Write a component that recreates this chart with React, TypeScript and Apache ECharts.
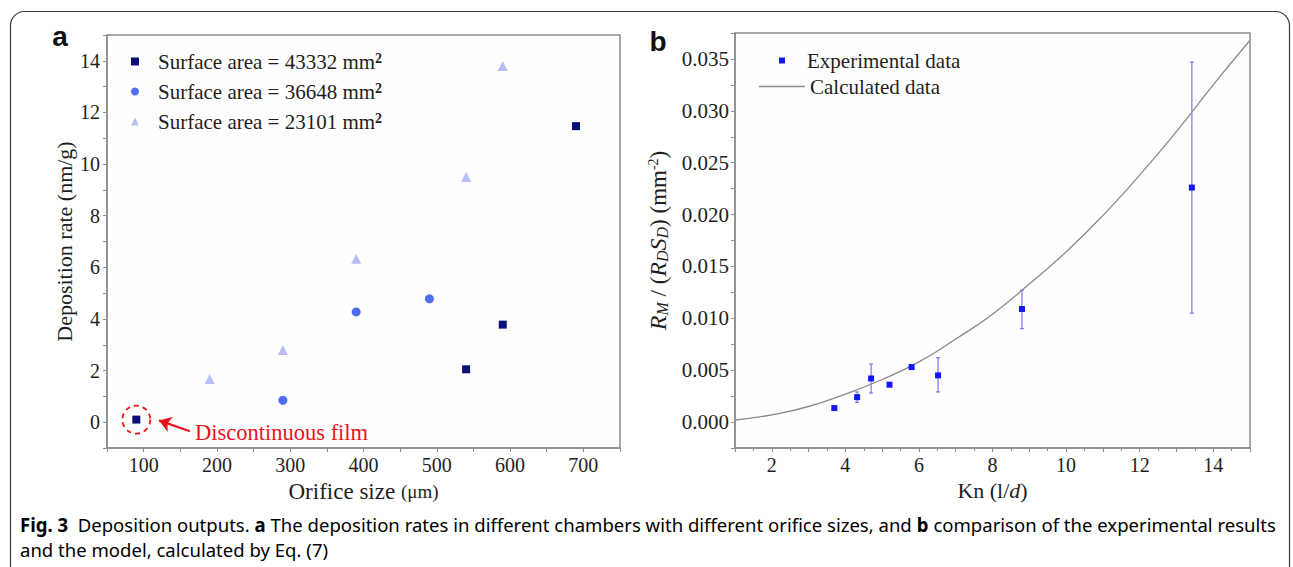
import React, { useEffect, useRef } from "react";
import * as echarts from "echarts";

// ---------- Panel a data ----------
const squareX = [90, 540, 590, 690];
const squareY = [0.1, 2.05, 3.78, 11.47];
const circleX = [290, 390, 490];
const circleY = [0.85, 4.27, 4.78];
const triangleX = [190, 290, 390, 540, 590];
const triangleY = [1.67, 2.8, 6.33, 9.5, 13.8];
const namesA = [
  "Surface area = 43332 mm²",
  "Surface area = 36648 mm²",
  "Surface area = 23101 mm²",
];
const discontinuousPoint = [90, 0.1];
const arrowFrom = [163, -0.35];
const arrowTo = [121, 0.07];

// ---------- Panel b data ----------
const knExp = [3.7, 4.32, 4.7, 5.2, 5.8, 6.52, 8.8, 13.42];
const rExp = [0.00135, 0.0024, 0.0042, 0.0036, 0.0053, 0.0045, 0.0109, 0.0226];
const errLow = [null, 0.0019, 0.0028, null, null, 0.0029, 0.009, 0.0105];
const errHigh = [null, 0.0029, 0.0056, null, null, 0.0062, 0.0127, 0.0347];
const knCalc = [1, 2, 3, 4, 5, 6, 7, 8, 9, 10, 11, 12, 13, 14, 15];
const rCalc = [
  0.0002, 0.0007, 0.0015, 0.0027, 0.0041, 0.0058, 0.008, 0.0104, 0.0133,
  0.0164, 0.0199, 0.0238, 0.028, 0.0325, 0.0368,
];

// ---------- caption ----------
const captionRow1 = [
  { s: "b", t: "Fig. 3" },
  { s: "n", t: "  Deposition outputs. " },
  { s: "b", t: "a" },
  { s: "n", t: " The deposition rates in different chambers with different orifice sizes, and " },
  { s: "b", t: "b" },
  { s: "n", t: " comparison of the experimental results" },
];
const captionRow2 = [
  { s: "n", t: "and the model, calculated by Eq. (" },
  { s: "l", t: "7" },
  { s: "n", t: ")" },
];

const SERIF = '"Liberation Serif", "Times New Roman", serif';
const SANS = '"Noto Sans", "Open Sans", sans-serif';
const AXIS_COLOR = "#8c8c8c";
const TEXT_COLOR = "#1e1e1e";

const zip = (xs: number[], ys: number[]) => xs.map((x, i) => [x, ys[i]]);

const axisBase = (gridIndex: number) => ({
  type: "value" as const,
  gridIndex,
  axisLine: { show: true, onZero: false, lineStyle: { color: AXIS_COLOR, width: 1.5 } },
  axisTick: { show: true, inside: false, length: 4, lineStyle: { color: AXIS_COLOR, width: 1 } },
  splitLine: { show: false },
});

const labelStyle = { color: TEXT_COLOR, fontFamily: SERIF, fontSize: 20 };

export default function App() {
  const ref = useRef<HTMLDivElement>(null);

  useEffect(() => {
    document.body.style.margin = "0";
    if (!ref.current) return;
    const chart = echarts.init(ref.current, null, { renderer: "svg" });

    const fontSize = 19;
    const canvas = document.createElement("canvas");
    const ctx = canvas.getContext("2d")!;
    let w1 = 0;
    captionRow1.forEach((seg) => {
      ctx.font = `${seg.s === "b" ? "bold " : ""}${fontSize}px ${SANS}`;
      w1 += ctx.measureText(seg.t).width;
    });
    const capScale = 1256 / w1;
    const richCap = {
      n: { fontFamily: SANS, fontSize, color: "#2a2a2a" },
      b: { fontFamily: SANS, fontSize, fontWeight: "bold", color: "#1a1a1a" },
      l: { fontFamily: SANS, fontSize, color: "#2b5fc9" },
    };
    const toRich = (row: { s: string; t: string }[]) =>
      row.map((seg) => `{${seg.s}|${seg.t}}`).join("");

    const errData = knExp
      .map((k, i) => [k, errLow[i], errHigh[i]])
      .filter((d) => d[1] !== null && d[2] !== null);

    const legendTextB = { fontFamily: SERIF, fontSize: 21, color: TEXT_COLOR, lineHeight: 20 };

    const option: any = {
      animation: false,
      backgroundColor: "#ffffff",
      grid: [
        { left: 107, top: 35, width: 513, height: 413, show: true, borderColor: AXIS_COLOR, borderWidth: 1.5, backgroundColor: "#fefefe" },
        { left: 735, top: 33, width: 515, height: 415, show: true, borderColor: AXIS_COLOR, borderWidth: 1.5, backgroundColor: "#fefefe" },
      ],
      xAxis: [
        {
          ...axisBase(0),
          min: 50,
          max: 750,
          interval: 50,
          axisLabel: { ...labelStyle, margin: 7, formatter: (v: number) => (v % 100 === 0 ? String(v) : "") },
          name: "{n|Orifice size }{u|(μm)}",
          nameLocation: "middle",
          nameGap: 28,
          nameTextStyle: {
            rich: {
              n: { fontFamily: SERIF, fontSize: 23, color: TEXT_COLOR },
              u: { fontFamily: SERIF, fontSize: 19, color: TEXT_COLOR },
            },
          },
        },
        {
          ...axisBase(1),
          min: 1,
          max: 15,
          interval: 1,
          minorTick: { show: true, splitNumber: 2, length: 3, lineStyle: { color: AXIS_COLOR } },
          axisLabel: { ...labelStyle, margin: 7, formatter: (v: number) => (Math.round(v) % 2 === 0 ? String(Math.round(v)) : "") },
          name: "{n|Kn (l/}{i|d}{n|)}",
          nameLocation: "middle",
          nameGap: 26,
          nameTextStyle: {
            rich: {
              n: { fontFamily: SERIF, fontSize: 22, color: TEXT_COLOR },
              i: { fontFamily: SERIF, fontSize: 22, fontStyle: "italic", color: TEXT_COLOR },
            },
          },
        },
      ],
      yAxis: [
        {
          ...axisBase(0),
          min: -1,
          max: 15,
          interval: 1,
          axisLabel: { ...labelStyle, margin: 7, formatter: (v: number) => (Math.round(v) % 2 === 0 ? String(Math.round(v)) : "") },
          name: "Deposition rate (nm/g)",
          nameLocation: "middle",
          nameGap: 32,
          nameTextStyle: { fontFamily: SERIF, fontSize: 22, color: TEXT_COLOR },
        },
        {
          ...axisBase(1),
          min: -0.0025,
          max: 0.0375,
          interval: 0.0025,
          axisLabel: {
            ...labelStyle,
            fontSize: 21,
            margin: 6,
            formatter: (v: number) => {
              const k = Math.round(v / 0.0025);
              return k % 2 === 0 ? (k * 0.0025).toFixed(3) : "";
            },
          },
          name: "{i|R}{sub|M}{n| / (}{i|R}{sub|D}{i|S}{sub|D}{n|) (mm}{sup|-2}{n|)}",
          nameLocation: "middle",
          nameGap: 65,
          nameTextStyle: {
            rich: {
              n: { fontFamily: SERIF, fontSize: 23, color: TEXT_COLOR, lineHeight: 24 },
              i: { fontFamily: SERIF, fontSize: 24, fontStyle: "italic", color: TEXT_COLOR, lineHeight: 24 },
              sub: { fontFamily: SERIF, fontSize: 16, fontStyle: "italic", color: TEXT_COLOR, lineHeight: 14, verticalAlign: "bottom" },
              sup: { fontFamily: SERIF, fontSize: 14, color: TEXT_COLOR, lineHeight: 12, verticalAlign: "top" },
            },
          },
        },
      ],
      legend: [
        {
          orient: "vertical",
          left: 126,
          top: 46,
          itemWidth: 8,
          itemHeight: 8,
          itemGap: 9,
          data: [
            { name: namesA[0], icon: "rect", itemStyle: { color: "#0a1078" } },
            { name: namesA[1], icon: "circle", itemStyle: { color: "#4f6ef2" } },
            { name: namesA[2], icon: "triangle", itemStyle: { color: "#b6bff6" } },
          ],
          formatter: (name: string) => `{t|${name.replace("²", "")}}{s|2}`,
          textStyle: {
            padding: [0, 0, 0, 14],
            rich: {
              t: { fontFamily: SERIF, fontSize: 21, color: TEXT_COLOR, lineHeight: 20 },
              s: { fontFamily: SERIF, fontSize: 14, fontWeight: "bold", color: TEXT_COLOR, lineHeight: 12, verticalAlign: "top" },
            },
          },
        },
        {
          orient: "vertical",
          left: 774,
          top: 45,
          itemWidth: 6,
          itemHeight: 6,
          data: [{ name: "Experimental data", icon: "rect", itemStyle: { color: "#1414ff" } }],
          textStyle: { ...legendTextB, padding: [0, 0, 0, 17] },
        },
        {
          orient: "vertical",
          left: 754,
          top: 71,
          itemWidth: 46,
          itemHeight: 1.4,
          data: [{ name: "Calculated data", icon: "rect", itemStyle: { color: "#8a8a8a" } }],
          textStyle: { ...legendTextB, padding: [0, 0, 0, 0] },
        },
      ],
      series: [
        {
          name: namesA[0],
          type: "scatter",
          xAxisIndex: 0,
          yAxisIndex: 0,
          symbol: "rect",
          symbolSize: 8,
          itemStyle: { color: "#0a1078", opacity: 1 },
          data: zip(squareX, squareY),
          z: 5,
          markPoint: {
            silent: true,
            data: [
              {
                coord: discontinuousPoint,
                symbol: "circle",
                symbolSize: 28,
                itemStyle: { color: "rgba(0,0,0,0)", borderColor: "#e8141c", borderWidth: 1.8, borderType: [5, 4], opacity: 1 },
                label: { show: false },
              },
            ],
          },
          markLine: {
            silent: true,
            symbol: ["none", "arrow"],
            symbolSize: [12, 12],
            label: { show: false },
            lineStyle: { color: "#e8141c", width: 2.2, type: "solid", opacity: 1 },
            data: [[{ coord: arrowFrom }, { coord: arrowTo }]],
          },
        },
        {
          name: namesA[1],
          type: "scatter",
          xAxisIndex: 0,
          yAxisIndex: 0,
          symbol: "circle",
          symbolSize: 9,
          itemStyle: { color: "#4f6ef2", opacity: 1 },
          data: zip(circleX, circleY),
        },
        {
          name: namesA[2],
          type: "scatter",
          xAxisIndex: 0,
          yAxisIndex: 0,
          symbol: "triangle",
          symbolSize: 10,
          itemStyle: { color: "#b6bff6", opacity: 1 },
          data: zip(triangleX, triangleY),
        },
        {
          name: "Calculated data",
          type: "line",
          xAxisIndex: 1,
          yAxisIndex: 1,
          smooth: true,
          symbol: "none",
          showSymbol: false,
          clip: true,
          lineStyle: { color: "#8a8a8a", width: 1.3 },
          itemStyle: { color: "#8a8a8a" },
          data: zip(knCalc, rCalc),
        },
        {
          name: "errorbars",
          type: "custom",
          xAxisIndex: 1,
          yAxisIndex: 1,
          silent: true,
          data: errData,
          renderItem: (params: any, api: any) => {
            const x = api.value(0);
            const top = api.coord([x, api.value(2)]);
            const bot = api.coord([x, api.value(1)]);
            const st = { stroke: "#6a6aff", lineWidth: 1.1 };
            return {
              type: "group",
              children: [
                { type: "line", shape: { x1: top[0], y1: top[1], x2: bot[0], y2: bot[1] }, style: st },
                { type: "line", shape: { x1: top[0] - 2, y1: top[1], x2: top[0] + 2, y2: top[1] }, style: st },
                { type: "line", shape: { x1: bot[0] - 2, y1: bot[1], x2: bot[0] + 2, y2: bot[1] }, style: st },
              ],
            };
          },
          z: 3,
        },
        {
          name: "Experimental data",
          type: "scatter",
          xAxisIndex: 1,
          yAxisIndex: 1,
          symbol: "rect",
          symbolSize: 6,
          itemStyle: { color: "#1414ff", opacity: 1 },
          data: zip(knExp, rExp),
          z: 6,
        },
      ],
      graphic: [
        {
          type: "rect",
          z: -10,
          shape: { x: 10.5, y: 11.5, width: 1279, height: 640, r: 14 },
          style: { fill: "none", stroke: "#3a3a3a", lineWidth: 1.2 },
          silent: true,
        },
        {
          type: "text",
          x: 60,
          y: 36,
          style: { text: "a", font: 'bold 28px "Liberation Sans", Arial, sans-serif', fill: "#111", align: "center", verticalAlign: "middle" },
        },
        {
          type: "text",
          x: 658,
          y: 41,
          style: { text: "b", font: 'bold 28px "Liberation Sans", Arial, sans-serif', fill: "#111", align: "center", verticalAlign: "middle" },
        },
        {
          type: "text",
          x: 195,
          y: 432,
          style: { text: "Discontinuous film", font: `22.5px ${SERIF}`, fill: "#e8141c", align: "left", verticalAlign: "middle" },
        },
        {
          type: "text",
          x: 20,
          y: 524,
          scaleX: capScale,
          style: { text: toRich(captionRow1), rich: richCap, align: "left", verticalAlign: "middle" },
        },
        {
          type: "text",
          x: 20,
          y: 549,
          scaleX: capScale,
          style: { text: toRich(captionRow2), rich: richCap, align: "left", verticalAlign: "middle" },
        },
      ],
    };

    chart.setOption(option);
    return () => chart.dispose();
  }, []);

  return <div ref={ref} style={{ width: 1293, height: 567 }} />;
}
